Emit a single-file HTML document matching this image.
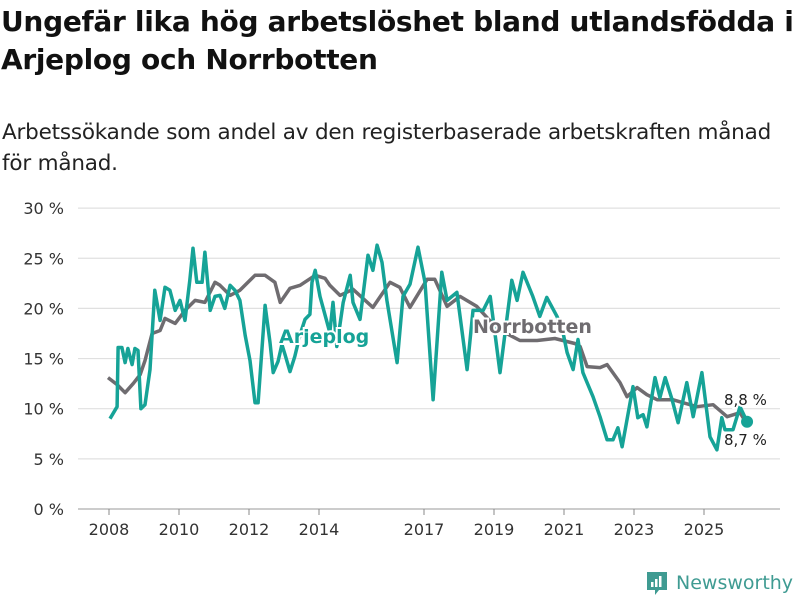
<!DOCTYPE html>
<html><head><meta charset="utf-8"><style>
body{margin:0;width:800px;height:600px;background:#fff;font-family:"Liberation Sans","DejaVu Sans",sans-serif;overflow:hidden;position:relative}
#title{position:absolute;left:1px;top:3px;font-size:28px;font-weight:bold;line-height:38px;color:#111;width:810px;font-family:"DejaVu Sans",sans-serif;letter-spacing:-0.3px}
#sub{position:absolute;left:2px;top:117px;font-size:21.5px;line-height:31px;color:#222;font-family:"DejaVu Sans",sans-serif;letter-spacing:-0.2px}
svg{position:absolute;left:0;top:0}
</style></head><body>
<div id="title">Ungefär lika hög arbetslöshet bland utlandsfödda i Arjeplog och Norrbotten</div>
<div id="sub">Arbetssökande som andel av den registerbaserade arbetskraften månad<br>för månad.</div>
<svg id="chart" width="800" height="600"></svg>
<script>
const yTicks=[0,5,10,15,20,25,30];
const xTicks=[2008,2010,2012,2014,2017,2019,2021,2023,2025];
const norrDates=[2007.97,2008.23,2008.46,2008.69,2008.89,2009.03,2009.23,2009.46,2009.6,2009.89,2010.17,2010.46,2010.74,2011.03,2011.17,2011.46,2011.74,2012.03,2012.17,2012.46,2012.74,2012.89,2013.17,2013.46,2013.89,2014.17,2014.31,2014.6,2014.97,2015.54,2016.03,2016.31,2016.6,2017.09,2017.31,2017.66,2018.03,2018.51,2019.09,2019.74,2020.23,2020.74,2021.31,2021.46,2021.66,2022.03,2022.23,2022.6,2022.8,2023.09,2023.37,2023.66,2024.11,2024.4,2024.8,2025.26,2025.66,2026.03,2026.17];
const norrValues=[13.1,12.4,11.6,12.5,13.4,14.8,17.5,17.8,19.0,18.5,19.8,20.8,20.6,22.6,22.3,21.3,21.8,22.8,23.3,23.3,22.6,20.6,22.0,22.3,23.3,23.0,22.3,21.3,21.9,20.1,22.6,22.1,20.1,22.9,22.9,20.2,21.2,20.2,18.0,16.8,16.8,17.0,16.5,16.2,14.2,14.1,14.4,12.6,11.2,12.1,11.4,10.9,10.9,10.6,10.2,10.4,9.2,9.6,8.8];
const arjDates=[2008.03,2008.23,2008.26,2008.37,2008.46,2008.54,2008.66,2008.74,2008.83,2008.91,2009.03,2009.17,2009.31,2009.46,2009.6,2009.74,2009.89,2010.03,2010.17,2010.31,2010.4,2010.51,2010.66,2010.74,2010.89,2011.03,2011.17,2011.31,2011.46,2011.6,2011.74,2011.89,2012.03,2012.17,2012.26,2012.46,2012.6,2012.69,2012.83,2012.94,2013.03,2013.17,2013.31,2013.46,2013.6,2013.74,2013.8,2013.89,2014.03,2014.31,2014.4,2014.51,2014.69,2014.89,2014.97,2015.17,2015.4,2015.54,2015.66,2015.8,2015.94,2016.23,2016.4,2016.6,2016.83,2017.03,2017.26,2017.51,2017.66,2017.94,2018.23,2018.4,2018.69,2018.89,2019.17,2019.51,2019.66,2019.83,2020.11,2020.31,2020.51,2020.8,2020.97,2021.09,2021.26,2021.4,2021.54,2021.83,2022.03,2022.23,2022.4,2022.54,2022.66,2022.97,2023.11,2023.26,2023.37,2023.6,2023.74,2023.89,2024.09,2024.26,2024.51,2024.69,2024.94,2025.17,2025.37,2025.51,2025.6,2025.83,2026.03,2026.23];
const arjValues=[9.0,10.2,16.1,16.1,14.6,16.0,14.4,16.0,15.8,10.0,10.4,13.9,21.8,18.8,22.1,21.8,19.8,20.8,18.8,22.8,26.0,22.6,22.6,25.6,19.8,21.2,21.3,20.0,22.3,21.8,20.8,17.3,14.8,10.6,10.6,20.3,16.6,13.6,14.7,16.4,15.4,13.7,15.2,17.4,18.9,19.4,22.6,23.8,21.2,17.6,20.6,16.2,20.6,23.3,20.6,18.9,25.3,23.8,26.3,24.6,20.8,14.6,21.2,22.4,26.1,22.6,10.9,23.6,20.8,21.6,13.9,19.8,19.8,21.2,13.6,22.8,20.8,23.6,21.2,19.2,21.1,19.2,17.6,15.6,13.9,16.9,13.6,11.2,9.2,6.9,6.9,8.1,6.2,12.2,9.1,9.4,8.2,13.1,11.1,13.1,10.9,8.6,12.6,9.2,13.6,7.2,5.9,9.1,7.9,7.9,10.2,8.7];
const svg=document.getElementById('chart');const NS='http://www.w3.org/2000/svg';
const X=d=>109+(d-2008)*35, Y=v=>509-v*10.03;
function mk(t,a){const e=document.createElementNS(NS,t);for(const k in a)e.setAttribute(k,a[k]);svg.appendChild(e);return e;}
yTicks.forEach(v=>{const l=mk('line',{x1:78,x2:780,y1:Y(v),y2:Y(v),stroke:v===0?'#bbb':'#e0e0e0','stroke-width':v===0?1.5:1.2});

const t=mk('text',{x:64,y:Y(v)+6,'text-anchor':'end','font-size':16,fill:'#333','font-family':'DejaVu Sans,sans-serif'});t.textContent=v+' %';
});
xTicks.forEach(v=>{const l=mk('line',{x1:X(v),x2:X(v),y1:509,y2:515,stroke:'#888'});

const t=mk('text',{x:X(v),y:535,'text-anchor':'middle','font-size':16,fill:'#333','font-family':'DejaVu Sans,sans-serif'});t.textContent=v;
});
function path(ds,vs){return ds.map((d,i)=>(i?'L':'M')+X(d).toFixed(1)+','+Y(vs[i]).toFixed(1)).join('');}
const pn=mk('path',{d:path(norrDates,norrValues),fill:'none',stroke:'#6f6c70','stroke-width':3.5,'stroke-linejoin':'round'});

const pa=mk('path',{d:path(arjDates,arjValues),fill:'none',stroke:'#16a397','stroke-width':3.5,'stroke-linejoin':'round'});

const dot=mk('circle',{cx:X(arjDates[arjDates.length-1]),cy:Y(arjValues[arjValues.length-1]),r:6,fill:'#16a397'});

function lab(x,y,txt,col,name,size,bold){const t=mk('text',{x:x,y:y,'font-size':size,'font-weight':bold?'bold':'normal',fill:col,stroke:'#fff','stroke-width':4,'paint-order':'stroke','font-family':'DejaVu Sans,sans-serif'});t.textContent=txt;
}
lab(279,343,'Arjeplog','#16a397','arjeplog-label',19,true);
lab(473,333,'Norrbotten','#6f6c70','norrbotten-label',19,true);
lab(724,405,'8,8 %','#222','norrbotten-end-value',15,false);
lab(724,445,'8,7 %','#222','arjeplog-end-value',15,false);
</script>
<div style="position:absolute;left:645px;top:570px;display:flex;align-items:center">
<svg width="24" height="26" style="position:static"><path d="M2 2h20v18h-8l-4 5v-5H2z" fill="#3f9b92"/><rect x="6" y="12" width="2.5" height="5" fill="#fff"/><rect x="10" y="9" width="2.5" height="8" fill="#fff"/><rect x="14" y="6" width="2.5" height="11" fill="#fff"/></svg>
<span style="font-size:19px;color:#3f9b92;margin-left:7px;font-family:'DejaVu Sans',sans-serif">Newsworthy</span></div>
</body></html>
